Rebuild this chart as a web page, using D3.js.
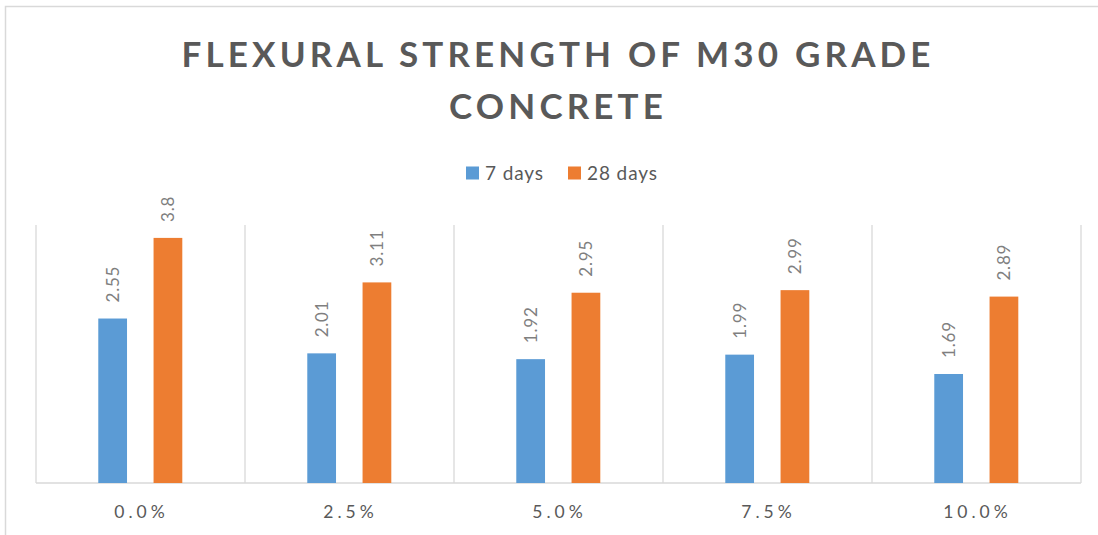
<!DOCTYPE html>
<html>
<head>
<meta charset="utf-8">
<script src="https://cdn.jsdelivr.net/npm/d3@7"></script>
<style>
  body { margin: 0; background: #fff; }
  svg { display: block; font-family: Lato, "Open Sans", sans-serif; }
</style>
</head>
<body>
<div id="chart"></div>
<script>
// data
var categories = ['0.0%', '2.5%', '5.0%', '7.5%', '10.0%'];
var seriesNames = ['7 days', '28 days'];
var days7 = [2.55, 2.01, 1.92, 1.99, 1.69];
var days28 = [3.8, 3.11, 2.95, 2.99, 2.89];
var seriesColors = ['#5B9BD5', '#ED7D31'];

var width = 1098, height = 535;
var plot = { left: 36, right: 1081, top: 225, bottom: 483 };

var svg = d3.select('#chart').append('svg')
  .attr('width', width)
  .attr('height', height);

// outer chart border (top and left are visible)
svg.append('path')
  .attr('d', 'M5.5,535 V6.5 H1098')
  .attr('fill', 'none')
  .attr('stroke', '#d9d9d9')
  .attr('stroke-width', 1.5);

// title
var titleLines = ['FLEXURAL STRENGTH OF M30 GRADE', 'CONCRETE'];
var title = svg.append('g').attr('class', 'title');
title.selectAll('text')
  .data(titleLines)
  .enter().append('text')
  .attr('x', 556)
  .attr('y', (d, i) => 67 + i * 52)
  .attr('text-anchor', 'middle')
  .attr('fill', '#595959')
  .attr('font-size', 35)
  .attr('font-weight', 'bold')
  .text(d => d);

// spread letters so line 1 is as wide as in the picture
var t1 = title.select('text').node();
var natural = t1.getComputedTextLength();
var spacing = (749 - natural) / (titleLines[0].length - 1);
title.selectAll('text').style('letter-spacing', spacing + 'px')
  .attr('dx', spacing / 2);

// legend
var legendX = [466, 568];
var legend = svg.append('g').attr('class', 'legend');
seriesNames.forEach(function(name, i) {
  legend.append('rect')
    .attr('x', legendX[i])
    .attr('y', 166.5)
    .attr('width', 13)
    .attr('height', 13)
    .attr('fill', seriesColors[i]);
  legend.append('text')
    .attr('x', legendX[i] + 19)
    .attr('y', 179.5)
    .attr('fill', '#595959')
    .attr('font-size', 19)
    .style('letter-spacing', '0.9px')
    .text(name);
});

// scales
var x0 = d3.scaleBand()
  .domain(categories)
  .range([plot.left, plot.right]);

var bw = x0.bandwidth();
var x1 = d3.scaleBand()
  .domain(seriesNames)
  .range([bw * 0.298, bw * 0.70])
  .paddingInner(0.48);

var y = d3.scaleLinear()
  .domain([0, 4])
  .range([plot.bottom, plot.top]);

// vertical gridlines at category boundaries
var bounds = categories.map(c => x0(c)).concat([plot.right]);
svg.append('g').selectAll('line')
  .data(bounds)
  .enter().append('line')
  .attr('x1', d => d).attr('x2', d => d)
  .attr('y1', plot.top).attr('y2', plot.bottom)
  .attr('stroke', '#d9d9d9')
  .attr('stroke-width', 1.3);

// baseline
svg.append('line')
  .attr('x1', plot.left).attr('x2', plot.right)
  .attr('y1', plot.bottom).attr('y2', plot.bottom)
  .attr('stroke', '#d9d9d9')
  .attr('stroke-width', 1.5);

// bars
var rows = categories.map((c, i) => ({ cat: c, values: [days7[i], days28[i]] }));

var groups = svg.append('g').selectAll('g')
  .data(rows)
  .enter().append('g')
  .attr('transform', d => `translate(${x0(d.cat)},0)`);

groups.selectAll('rect')
  .data(d => d.values.map((v, i) => ({ name: seriesNames[i], value: v, i: i })))
  .enter().append('rect')
  .attr('x', d => x1(d.name))
  .attr('y', d => y(d.value))
  .attr('width', x1.bandwidth())
  .attr('height', d => y(0) - y(d.value))
  .attr('fill', d => seriesColors[d.i]);

// rotated value labels
groups.selectAll('text.value')
  .data(d => d.values.map((v, i) => ({ name: seriesNames[i], value: v })))
  .enter().append('text')
  .attr('class', 'value')
  .attr('transform', d => `translate(${x1(d.name) + x1.bandwidth() / 2},${y(d.value) - 16}) rotate(-90)`)
  .attr('dy', '0.35em')
  .attr('fill', '#7f7f7f')
  .attr('font-size', 17)
  .style('letter-spacing', '0.8px')
  .text(d => d.value);

// category axis labels
svg.append('g').selectAll('text')
  .data(categories)
  .enter().append('text')
  .attr('x', d => x0(d) + bw / 2 + 1)
  .attr('y', 518)
  .attr('text-anchor', 'middle')
  .attr('fill', '#595959')
  .attr('font-size', 17.5)
  .style('letter-spacing', '4px')
  .text(d => d);
</script>
</body>
</html>
